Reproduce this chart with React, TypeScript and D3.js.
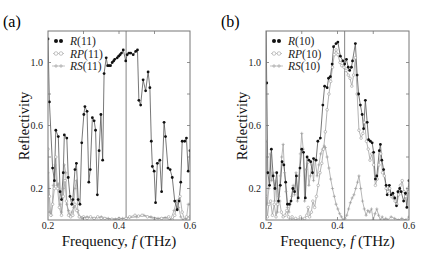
import * as d3 from "d3";

type Pt = [number, number];

// panel (a), mode 11
const rA: Pt[] = [
  [0.2, 1.15], [0.204, 0.75], [0.213, 0.33], [0.218, 0.25], [0.222, 0.57], [0.229, 0.53], [0.234, 0.18],
  [0.238, 0.13], [0.243, 0.3], [0.246, 0.54], [0.253, 0.52], [0.257, 0.27], [0.262, 0.15], [0.267, 0.1],
  [0.27, 0.13], [0.276, 0.32], [0.28, 0.36], [0.285, 0.13], [0.29, 0.1], [0.295, 0.49], [0.301, 0.67],
  [0.304, 0.72], [0.31, 0.69], [0.315, 0.24], [0.319, 0.32], [0.325, 0.65], [0.33, 0.63], [0.334, 0.57],
  [0.339, 0.16], [0.344, 0.44], [0.349, 0.67], [0.354, 0.38], [0.358, 0.93], [0.364, 1.03], [0.368, 0.98],
  [0.372, 0.98], [0.376, 0.98], [0.381, 1.0], [0.385, 1.01], [0.388, 1.02], [0.395, 1.03], [0.399, 1.04],
  [0.403, 1.05], [0.407, 1.06], [0.412, 1.08], [0.419, 1.01], [0.423, 1.05], [0.428, 1.06], [0.433, 1.06],
  [0.44, 1.05], [0.447, 1.07], [0.452, 1.08], [0.456, 0.76], [0.461, 0.73], [0.468, 0.89], [0.475, 0.82],
  [0.482, 0.94], [0.487, 0.84], [0.491, 0.5], [0.494, 0.34], [0.499, 0.31], [0.503, 0.11], [0.508, 0.36],
  [0.515, 0.38], [0.52, 0.18], [0.527, 0.62], [0.531, 0.53], [0.538, 0.33], [0.544, 0.32], [0.55, 0.27],
  [0.557, 0.12], [0.564, 0.065], [0.569, 0.12], [0.574, 0.24], [0.578, 0.5], [0.585, 0.5], [0.59, 0.52],
  [0.595, 0.31], [0.6, 0.44],
];
const rpA: Pt[] = [
  [0.2, 0.45], [0.204, 0.15], [0.208, 0.03], [0.213, 0.1], [0.218, 0.2], [0.222, 0.4], [0.227, 0.2],
  [0.232, 0.08], [0.238, 0.03], [0.243, 0.15], [0.248, 0.25], [0.252, 0.12], [0.258, 0.03], [0.264, 0.02],
  [0.27, 0.03], [0.276, 0.1], [0.281, 0.06], [0.288, 0.02], [0.3, 0.02], [0.31, 0.01], [0.32, 0.02],
  [0.33, 0.01], [0.34, 0.02], [0.35, 0.01], [0.36, 0.01], [0.38, 0.005], [0.4, 0.01], [0.42, 0.01],
  [0.43, 0.02], [0.445, 0.03], [0.455, 0.025], [0.465, 0.03], [0.48, 0.02], [0.5, 0.01], [0.52, 0.01],
  [0.54, 0.02], [0.55, 0.0], [0.557, 0.03], [0.565, 0.12], [0.572, 0.15], [0.578, 0.05], [0.585, 0.0],
  [0.59, 0.02], [0.6, 0.02],
];
const rsA: Pt[] = [
  [0.2, 0.3], [0.204, 0.05], [0.21, 0.03], [0.215, 0.22], [0.22, 0.35], [0.225, 0.22], [0.229, 0.23],
  [0.234, 0.1], [0.238, 0.05], [0.243, 0.2], [0.246, 0.35], [0.25, 0.3], [0.253, 0.1], [0.258, 0.06],
  [0.262, 0.03], [0.267, 0.05], [0.272, 0.08], [0.276, 0.2], [0.28, 0.25], [0.284, 0.06], [0.29, 0.02],
  [0.296, 0.01], [0.31, 0.02], [0.33, 0.01], [0.35, 0.02], [0.37, 0.01], [0.39, 0.005], [0.41, 0.01],
  [0.43, 0.015], [0.45, 0.02], [0.47, 0.03], [0.49, 0.02], [0.51, 0.01], [0.53, 0.015], [0.545, 0.0],
  [0.555, 0.06], [0.562, 0.12], [0.568, 0.08], [0.574, 0.02], [0.58, 0.0], [0.59, 0.01], [0.595, 0.1],
  [0.6, 0.1],
];

// panel (b), mode 10
const rB: Pt[] = [
  [0.2, 1.3], [0.202, 0.87], [0.205, 0.3], [0.21, 0.22], [0.215, 0.45], [0.22, 0.28], [0.225, 0.2],
  [0.23, 0.3], [0.235, 0.12], [0.24, 0.22], [0.245, 0.37], [0.25, 0.35], [0.255, 0.24], [0.26, 0.1],
  [0.265, 0.1], [0.27, 0.12], [0.275, 0.2], [0.28, 0.18], [0.285, 0.28], [0.29, 0.14], [0.295, 0.33],
  [0.3, 0.45], [0.305, 0.43], [0.31, 0.14], [0.315, 0.4], [0.32, 0.38], [0.325, 0.37], [0.33, 0.3],
  [0.333, 0.39], [0.34, 0.38], [0.345, 0.5], [0.352, 0.52], [0.359, 0.73], [0.364, 0.85], [0.371, 0.84],
  [0.375, 0.9], [0.38, 0.91], [0.385, 0.99], [0.389, 1.1], [0.396, 1.12], [0.401, 1.13], [0.408, 1.04],
  [0.415, 1.01], [0.42, 0.99], [0.425, 1.02], [0.43, 0.97], [0.434, 0.95], [0.439, 0.97], [0.442, 1.01],
  [0.45, 1.12], [0.455, 0.92], [0.459, 0.8], [0.464, 0.73], [0.469, 0.67], [0.473, 0.58], [0.478, 0.76],
  [0.483, 0.62], [0.487, 0.51], [0.492, 0.5], [0.497, 0.49], [0.501, 0.43], [0.506, 0.26], [0.51, 0.28],
  [0.517, 0.44], [0.52, 0.48], [0.524, 0.38], [0.529, 0.32], [0.536, 0.22], [0.539, 0.16], [0.545, 0.22],
  [0.55, 0.16], [0.555, 0.17], [0.56, 0.14], [0.565, 0.09], [0.569, 0.18], [0.574, 0.2], [0.578, 0.18],
  [0.585, 0.12], [0.59, 0.17], [0.594, 0.08], [0.6, 0.25],
];
const rpB: Pt[] = [
  [0.2, 0.15], [0.204, 0.02], [0.208, 0.1], [0.213, 0.12], [0.218, 0.03], [0.223, 0.1], [0.228, 0.02],
  [0.233, 0.1], [0.238, 0.12], [0.243, 0.05], [0.248, 0.02], [0.253, 0.03], [0.258, 0.06], [0.263, 0.02],
  [0.268, 0.0], [0.273, 0.02], [0.278, 0.0], [0.283, 0.01], [0.29, 0.0], [0.296, 0.02], [0.302, 0.0],
  [0.308, 0.01], [0.314, 0.03], [0.318, 0.08], [0.322, 0.02], [0.327, 0.05], [0.331, 0.12], [0.336, 0.08],
  [0.341, 0.15], [0.346, 0.22], [0.351, 0.3], [0.356, 0.36], [0.361, 0.45], [0.366, 0.56], [0.371, 0.7],
  [0.376, 0.8], [0.381, 0.88], [0.386, 0.97], [0.391, 1.05], [0.396, 1.08], [0.401, 1.05], [0.407, 1.0],
  [0.412, 0.98], [0.418, 0.97], [0.424, 0.95], [0.43, 0.92], [0.435, 0.9], [0.44, 0.85], [0.445, 0.92],
  [0.45, 1.03], [0.455, 0.8], [0.46, 0.57], [0.466, 0.52], [0.471, 0.55], [0.476, 0.62], [0.481, 0.5],
  [0.486, 0.45], [0.491, 0.38], [0.496, 0.42], [0.501, 0.35], [0.506, 0.22], [0.511, 0.26], [0.516, 0.35],
  [0.521, 0.42], [0.526, 0.3], [0.531, 0.28], [0.536, 0.2], [0.541, 0.18], [0.546, 0.2], [0.551, 0.15],
  [0.556, 0.14], [0.561, 0.12], [0.566, 0.1], [0.571, 0.16], [0.576, 0.22], [0.581, 0.25], [0.586, 0.18],
  [0.591, 0.15], [0.596, 0.2], [0.6, 0.18],
];
const rsB: Pt[] = [
  [0.2, 0.5], [0.204, 0.1], [0.208, 0.2], [0.212, 0.42], [0.216, 0.25], [0.22, 0.3], [0.224, 0.12],
  [0.228, 0.25], [0.232, 0.05], [0.236, 0.15], [0.24, 0.28], [0.244, 0.4], [0.248, 0.48], [0.252, 0.3],
  [0.256, 0.18], [0.26, 0.08], [0.264, 0.05], [0.268, 0.1], [0.272, 0.15], [0.276, 0.22], [0.28, 0.16],
  [0.284, 0.3], [0.288, 0.12], [0.292, 0.28], [0.296, 0.42], [0.3, 0.55], [0.304, 0.45], [0.308, 0.12],
  [0.312, 0.32], [0.316, 0.36], [0.32, 0.22], [0.324, 0.28], [0.328, 0.35], [0.333, 0.25], [0.338, 0.38],
  [0.343, 0.28], [0.348, 0.35], [0.353, 0.42], [0.358, 0.45], [0.363, 0.47], [0.366, 0.46], [0.371, 0.4],
  [0.376, 0.33], [0.381, 0.26], [0.386, 0.2], [0.391, 0.15], [0.396, 0.1], [0.401, 0.07], [0.406, 0.04],
  [0.411, 0.02], [0.416, 0.0], [0.421, 0.01], [0.426, 0.03], [0.431, 0.07], [0.436, 0.11], [0.441, 0.14],
  [0.446, 0.16], [0.451, 0.2], [0.456, 0.24], [0.46, 0.28], [0.465, 0.2], [0.47, 0.12], [0.475, 0.07],
  [0.48, 0.03], [0.485, 0.06], [0.49, 0.05], [0.495, 0.07], [0.5, 0.0], [0.505, 0.04], [0.51, 0.07],
  [0.515, 0.03], [0.52, 0.0], [0.525, 0.02], [0.53, 0.0], [0.535, 0.01], [0.54, 0.0], [0.55, 0.02],
  [0.56, 0.01], [0.57, 0.0], [0.58, 0.01], [0.59, 0.0], [0.6, 0.02],
];

const xTickLabels = [0.2, 0.4, 0.6];
const yTickLabels = [0.2, 0.6, 1.0];
const xMinorTicks = [0.3, 0.4, 0.5];
const yMinorTicks = [0.2, 0.4, 0.6, 0.8, 1.0];
const markerLine = 0.42;

const FONT = "Liberation Serif";
const FRAME = "#777";

interface PanelProps {
  id: string;
  tag: string;
  mode: string;
  left: number;
  right: number;
  r: Pt[];
  rp: Pt[];
  rs: Pt[];
}

function Panel({ id, tag, mode, left, right, r, rp, rs }: PanelProps) {
  const top = 31, bottom = 220;
  const x = d3.scaleLinear().domain([0.2, 0.6]).range([left, right]);
  const y = d3.scaleLinear().domain([0, 1.2]).range([bottom, top]);
  const line = d3.line<Pt>().x((d) => x(d[0])).y((d) => y(d[1]));
  const clip = `clip-${id}`;
  const lx = left + 8;
  const rows = [41, 53.5, 66];

  return (
    <g>
      <defs>
        <clipPath id={clip}>
          <rect x={left} y={top} width={right - left} height={bottom - top} />
        </clipPath>
      </defs>
      <text x={left - 45} y={27} fontSize={16} fontFamily={FONT}>{tag}</text>

      <g clipPath={`url(#${clip})`}>
        <line x1={x(markerLine)} x2={x(markerLine)} y1={top} y2={bottom} stroke={FRAME} strokeWidth={0.9} />
        <path d={line(rs) ?? ""} fill="none" stroke="#a0a0a0" strokeWidth={0.75} />
        <path d={line(rp) ?? ""} fill="none" stroke="#999" strokeWidth={0.75} />
        <path d={line(r) ?? ""} fill="none" stroke="#555" strokeWidth={0.8} />
        {rs.map((d, i) => (
          <path key={`s${i}`} d={`M${x(d[0]) - 1.6},${y(d[1])}h3.2M${x(d[0])},${y(d[1]) - 1.6}v3.2`} stroke="#999" strokeWidth={0.6} />
        ))}
        {rp.map((d, i) => (
          <circle key={`p${i}`} cx={x(d[0])} cy={y(d[1])} r={1.3} fill="#fff" stroke="#999" strokeWidth={0.6} />
        ))}
        {r.map((d, i) => (
          <circle key={`r${i}`} cx={x(d[0])} cy={y(d[1])} r={1.4} fill="#111" />
        ))}
      </g>

      <rect x={left} y={top} width={right - left} height={bottom - top} fill="none" stroke={FRAME} strokeWidth={1} />
      {yMinorTicks.map((t) => (
        <g key={`yt${t}`} stroke={FRAME} strokeWidth={0.8}>
          <line x1={left} x2={left + 3} y1={y(t)} y2={y(t)} />
          <line x1={right} x2={right - 3} y1={y(t)} y2={y(t)} />
        </g>
      ))}
      {xMinorTicks.map((t) => (
        <g key={`xt${t}`} stroke={FRAME} strokeWidth={0.8}>
          <line x1={x(t)} x2={x(t)} y1={top} y2={top + 3} />
          <line x1={x(t)} x2={x(t)} y1={bottom} y2={bottom - 3} />
        </g>
      ))}
      {yTickLabels.map((t) => (
        <text key={`yl${t}`} x={left - 5} y={y(t) + 3.5} fontSize={10} fontFamily={FONT} textAnchor="end" fill="#222">
          {d3.format(".1f")(t)}
        </text>
      ))}
      {xTickLabels.map((t) => (
        <text key={`xl${t}`} x={x(t)} y={bottom + 9} fontSize={10} fontFamily={FONT} textAnchor="middle" fill="#222">
          {d3.format(".1f")(t)}
        </text>
      ))}
      <text x={(left + right) / 2} y={246} fontSize={15} fontFamily={FONT} textAnchor="middle" fill="#111">
        Frequency, <tspan fontStyle="italic">f</tspan> (THz)
      </text>
      <text transform={`translate(${left - 19},126) rotate(-90)`} fontSize={14.5} fontFamily={FONT} textAnchor="middle" fill="#111">
        Reflectivity
      </text>

      {/* legend */}
      <g>
        <circle cx={lx} cy={rows[0]} r={2} fill="#111" />
        <circle cx={lx + 5} cy={rows[0]} r={2} fill="#111" />
        <line x1={lx - 3} x2={lx + 8} y1={rows[1]} y2={rows[1]} stroke="#aaa" strokeWidth={0.7} />
        <circle cx={lx} cy={rows[1]} r={1.8} fill="#fff" stroke="#aaa" strokeWidth={0.7} />
        <circle cx={lx + 5} cy={rows[1]} r={1.8} fill="#fff" stroke="#aaa" strokeWidth={0.7} />
        <line x1={lx - 4} x2={lx + 9} y1={rows[2]} y2={rows[2]} stroke="#aaa" strokeWidth={0.7} />
        <path d={`M${lx - 2},${rows[2]}h4M${lx},${rows[2] - 2}v4M${lx + 3},${rows[2]}h4M${lx + 5},${rows[2] - 2}v4`} stroke="#aaa" strokeWidth={0.7} />
        {[["R", 0], ["RP", 1], ["RS", 2]].map(([name, k]) => (
          <text key={name as string} x={left + 22} y={rows[k as number] + 4} fontSize={11.5} fontFamily={FONT} fill="#222">
            <tspan fontStyle="italic">{name}</tspan>({mode})
          </text>
        ))}
      </g>
    </g>
  );
}

export default function App() {
  return (
    <svg width={425} height={253} style={{ position: "absolute", left: 0, top: 0, background: "#fff" }}>
      <Panel id="a" tag="(a)" mode="11" left={48} right={190} r={rA} rp={rpA} rs={rsA} />
      <Panel id="b" tag="(b)" mode="10" left={266} right={409} r={rB} rp={rpB} rs={rsB} />
    </svg>
  );
}
